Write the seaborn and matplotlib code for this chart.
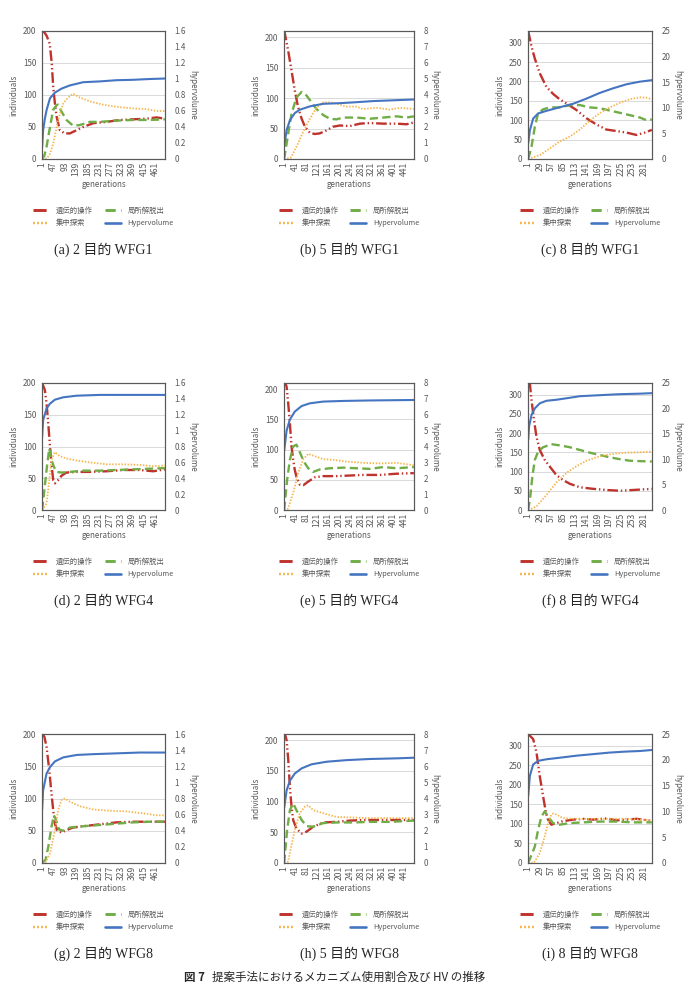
import numpy as np
import pandas as pd
import matplotlib.pyplot as plt
import seaborn as sns
from matplotlib.lines import Line2D
from matplotlib.ticker import FuncFormatter

# (generation, value) pairs
# ga = 遺伝的操作, ls = 局所解脱出, fs = 集中探索, hv = Hypervolume
a_ga = [(1,200),(10,198),(20,192),(32,180),(40,150),(46,113),(53,87),(60,66),(73,45),(93,40),(114,40),(141,45),(168,50),(209,56),(263,58),(317,61),(371,62),(425,63),(466,65),(500,63)]
a_ls = [(1,0),(10,5),(19,19),(33,50),(46,77),(60,84),(66,85),(80,74),(100,61),(127,52),(154,53),(195,58),(236,58),(304,60),(371,61),(439,61),(500,62)]
a_fs = [(1,0),(20,1),(33,8),(46,24),(66,61),(87,87),(107,96),(127,102),(154,96),(195,90),(236,86),(276,83),(317,81),(371,79),(425,78),(466,75),(500,75)]
a_hv = [(1,0.15),(5,0.36),(12,0.5),(19,0.61),(33,0.76),(53,0.83),(80,0.88),(114,0.92),(168,0.96),(236,0.97),(304,0.985),(371,0.99),(439,1.0),(500,1.006)]

b_ga = [(1,212),(16,177),(28,145),(40,112),(52,85),(65,66),(77,53),(95,43),(113,41),(131,42),(156,47),(180,53),(205,55),(241,54),(278,58),(314,59),(363,58),(412,58),(448,57),(475,60)]
b_ls = [(1,0),(16,42),(28,74),(46,101),(65,110),(83,104),(101,93),(119,82),(144,72),(168,66),(192,65),(217,68),(265,68),(314,66),(363,68),(412,70),(448,68),(475,70)]
b_fs = [(1,0),(25,2),(46,20),(71,45),(95,66),(119,84),(144,93),(168,93),(192,91),(229,86),(265,86),(290,82),(339,84),(387,81),(424,84),(475,82)]
b_hv = [(1,0.76),(10,1.8),(22,2.42),(40,2.87),(58,3.08),(95,3.29),(144,3.45),(205,3.49),(265,3.55),(326,3.62),(387,3.66),(475,3.72)]

c_ga = [(1,330),(9,290),(17,259),(29,221),(45,186),(61,168),(77,154),(94,143),(118,126),(142,105),(166,89),(190,76),(215,72),(239,68),(263,62),(283,68),(300,75)]
c_ls = [(1,0),(9,32),(17,83),(25,118),(37,128),(53,133),(77,133),(102,139),(126,139),(150,133),(174,131),(198,125),(223,119),(247,113),(271,107),(287,100),(300,102)]
c_fs = [(1,0),(29,10),(53,27),(77,45),(102,58),(126,76),(150,99),(174,118),(198,133),(223,145),(247,154),(271,159),(287,158),(300,154)]
c_hv = [(1,3.05),(5,5.6),(13,7.9),(25,8.9),(45,9.4),(77,10.1),(110,10.8),(142,11.8),(174,12.9),(206,13.8),(239,14.6),(271,15.1),(300,15.4)]

d_ga = [(1,200),(12,189),(19,168),(26,136),(33,100),(39,73),(46,47),(53,42),(66,47),(80,54),(100,59),(141,60),(195,60),(263,61),(331,63),(398,63),(453,61),(500,64)]
d_ls = [(1,0),(19,63),(30,97),(39,79),(49,68),(60,60),(80,59),(114,60),(168,62),(236,62),(304,63),(371,64),(439,65),(500,66)]
d_fs = [(1,0),(19,10),(30,47),(39,79),(53,91),(73,85),(100,81),(141,78),(195,75),(263,72),(331,72),(398,71),(453,69),(500,70)]
d_hv = [(1,0.92),(5,1.13),(19,1.28),(33,1.34),(53,1.39),(87,1.42),(141,1.44),(236,1.45),(371,1.45),(500,1.45)]

e_ga = [(1,215),(10,204),(16,176),(22,143),(28,105),(34,83),(40,66),(46,55),(58,42),(71,41),(89,47),(113,54),(144,56),(192,56),(241,57),(290,58),(351,58),(412,60),(475,61)]
e_ls = [(1,0),(12,50),(22,83),(34,105),(46,108),(58,96),(73,80),(89,69),(107,63),(131,67),(168,69),(217,70),(265,69),(314,68),(363,71),(412,69),(475,71)]
e_fs = [(1,0),(15,2),(34,28),(52,61),(71,84),(89,93),(113,89),(144,84),(180,83),(229,80),(290,78),(351,77),(412,78),(475,74)]
e_hv = [(1,3.7),(10,5.0),(22,5.7),(40,6.2),(65,6.55),(95,6.72),(144,6.83),(217,6.87),(314,6.9),(475,6.93)]

f_ga = [(1,330),(5,329),(9,286),(15,234),(21,190),(29,156),(41,130),(53,113),(69,91),(85,78),(102,68),(126,59),(158,55),(190,52),(223,50),(255,52),(287,54),(300,55)]
f_ls = [(1,0),(6,35),(11,87),(17,130),(25,152),(37,163),(57,171),(77,168),(102,163),(126,156),(150,149),(174,143),(198,137),(223,132),(247,128),(271,127),(300,126)]
f_fs = [(1,0),(21,9),(45,39),(69,71),(94,97),(118,114),(142,128),(166,137),(190,143),(215,147),(239,149),(271,150),(300,152)]
f_hv = [(1,13.8),(3,16.4),(9,18.7),(17,20.0),(29,21.0),(45,21.5),(69,21.7),(94,22.0),(126,22.4),(174,22.6),(223,22.8),(271,22.9),(300,23.0)]

g_ga = [(1,200),(10,196),(19,180),(30,144),(39,108),(46,82),(53,61),(62,51),(80,47),(100,51),(127,55),(168,57),(236,60),(304,63),(371,64),(439,64),(500,64)]
g_ls = [(1,0),(15,5),(26,25),(39,56),(49,74),(57,67),(70,52),(87,50),(114,55),(168,57),(236,59),(304,61),(371,63),(439,64),(500,64)]
g_fs = [(1,0),(15,1),(33,15),(53,51),(66,82),(80,98),(93,100),(114,95),(154,88),(209,83),(276,81),(344,80),(412,77),(466,74),(500,74)]
g_hv = [(1,0.66),(5,0.9),(19,1.11),(33,1.19),(53,1.26),(87,1.31),(141,1.34),(209,1.35),(304,1.36),(398,1.37),(500,1.37)]

h_ga = [(1,215),(10,200),(16,168),(22,124),(28,92),(34,70),(46,56),(65,48),(83,51),(107,59),(144,66),(192,67),(241,69),(290,70),(351,70),(412,70),(475,70)]
h_ls = [(1,0),(12,54),(22,86),(34,97),(46,86),(65,70),(83,60),(107,59),(144,65),(192,66),(253,66),(314,67),(387,67),(475,69)]
h_fs = [(1,0),(15,2),(40,54),(58,81),(77,92),(89,94),(107,86),(144,81),(192,75),(253,74),(314,73),(387,73),(475,73)]
h_hv = [(1,3.4),(10,4.5),(22,5.1),(40,5.55),(65,5.87),(101,6.12),(156,6.28),(229,6.38),(314,6.45),(412,6.49),(475,6.53)]

i_ga = [(1,330),(13,317),(21,283),(29,222),(37,171),(44,128),(49,111),(57,98),(69,102),(85,107),(110,111),(134,113),(158,111),(190,114),(215,109),(239,111),(263,113),(300,108)]
i_ls = [(1,0),(17,42),(25,85),(33,119),(41,132),(49,119),(61,102),(77,98),(102,102),(134,104),(174,106),(215,106),(255,104),(300,104)]
i_fs = [(1,0),(15,1),(29,25),(41,68),(49,102),(57,124),(62,127),(69,124),(85,115),(110,113),(142,113),(174,113),(206,113),(239,113),(271,111),(300,109)]
i_hv = [(1,13.0),(5,16.9),(13,19.1),(25,19.8),(45,20.1),(77,20.4),(118,20.8),(158,21.1),(198,21.4),(239,21.6),(271,21.7),(300,21.9)]

captions = ["(a) 2 目的 WFG1", "(b) 5 目的 WFG1", "(c) 8 目的 WFG1",
            "(d) 2 目的 WFG4", "(e) 5 目的 WFG4", "(f) 8 目的 WFG4",
            "(g) 2 目的 WFG8", "(h) 5 目的 WFG8", "(i) 8 目的 WFG8"]
series_names = ["遺伝的操作", "局所解脱出", "集中探索", "Hypervolume"]

# per objective count: generations, left ylim, left ticks, right ylim, right ticks, x tick step
obj_cfg = {
    2: dict(n=500, ylim=200, yticks=np.arange(0, 201, 50), hvlim=1.6, hvticks=np.arange(0, 1.61, 0.2), step=46),
    5: dict(n=475, ylim=210, yticks=np.arange(0, 201, 50), hvlim=8, hvticks=np.arange(0, 9, 1), step=40),
    8: dict(n=300, ylim=330, yticks=np.arange(0, 301, 50), hvlim=25, hvticks=np.arange(0, 26, 5), step=28),
}

panel_data = [(a_ga, a_ls, a_fs, a_hv), (b_ga, b_ls, b_fs, b_hv), (c_ga, c_ls, c_fs, c_hv),
              (d_ga, d_ls, d_fs, d_hv), (e_ga, e_ls, e_fs, e_hv), (f_ga, f_ls, f_fs, f_hv),
              (g_ga, g_ls, g_fs, g_hv), (h_ga, h_ls, h_fs, h_hv), (i_ga, i_ls, i_fs, i_hv)]
panel_obj = [2, 5, 8] * 3

sns.set_style("white")
plt.rcParams['font.family'] = ['Noto Sans CJK JP', 'DejaVu Sans']

colors = ["#C0322C", "#70AD47", "#F6B44A", "#4575C1"]
styles = [(0, (4.5, 1.2, 0.6, 1.2, 0.6, 1.2)), (0, (3.5, 1.8)), (0, (0.8, 0.9)), "-"]
widths = [1.7, 1.7, 1.3, 1.5]
GRAY = "#595959"

W, H = 688, 985
fig = plt.figure(figsize=(W / 100, H / 100), dpi=100)

col_left = [42, 284, 528]
col_w = [123, 130, 124]
row_top = [31, 383, 734]
row_h = [128, 127, 129]

for k, (data, obj) in enumerate(zip(panel_data, panel_obj)):
    r, c = divmod(k, 3)
    cfg = obj_cfg[obj]
    x0, w, y0, h = col_left[c], col_w[c], row_top[r], row_h[r]
    ax = fig.add_axes([x0 / W, 1 - (y0 + h) / H, w / W, h / H])
    ax2 = ax.twinx()

    for j in range(3):
        df = pd.DataFrame(data[j], columns=["generation", "value"])
        sns.lineplot(data=df, x="generation", y="value", ax=ax, color=colors[j],
                     lw=widths[j], linestyle=styles[j], estimator=None)
    df = pd.DataFrame(data[3], columns=["generation", "value"])
    sns.lineplot(data=df, x="generation", y="value", ax=ax2, color=colors[3],
                 lw=widths[3], linestyle=styles[3], estimator=None)

    ax.set_xlim(0.5, cfg["n"] + 0.5)
    ax.set_ylim(0, cfg["ylim"])
    ax.set_yticks(cfg["yticks"])
    ax2.set_ylim(0, cfg["hvlim"])
    ax2.set_yticks(cfg["hvticks"])
    ax2.yaxis.set_major_formatter(FuncFormatter(lambda v, p: f"{v:g}"))
    ax.set_xticks(np.arange(1, cfg["n"], cfg["step"]))
    ax.grid(axis="y", color="#D9D9D9", lw=0.7)
    ax.set_axisbelow(True)

    ax.tick_params(axis="x", labelrotation=90, length=0, pad=2, labelsize=6.2, labelcolor=GRAY)
    ax.tick_params(axis="y", length=0, pad=4, labelsize=5.8, labelcolor=GRAY)
    ax2.tick_params(axis="y", length=0, pad=7, labelsize=5.8, labelcolor=GRAY)
    ax.set_xlabel("generations", fontsize=5.8, color=GRAY, labelpad=3)
    ax.set_ylabel("individuals", fontsize=5.8, color=GRAY, labelpad=3)
    ax2.set_ylabel("hypervolume", fontsize=5.8, color=GRAY, rotation=270, labelpad=8)
    for a in (ax, ax2):
        for s in a.spines.values():
            s.set_color(GRAY)
            s.set_linewidth(0.8)

    handles = [Line2D([], [], color=colors[j], lw=widths[j] + 0.4, linestyle=styles[j]) for j in (0, 2, 1, 3)]
    labels = [series_names[j] for j in (0, 2, 1, 3)]
    leg = ax.legend(handles, labels, ncol=2, loc="upper center",
                    bbox_to_anchor=((x0 + w / 2) / W, 1 - (y0 + h + 41) / H),
                    bbox_transform=fig.transFigure, frameon=False, fontsize=5.3,
                    handlelength=2.2, handletextpad=0.9, columnspacing=1.6, labelspacing=0.65)
    for t in leg.get_texts():
        t.set_color(GRAY)

    fig.text((x0 + w / 2) / W, 1 - (y0 + h + 91) / H, captions[k],
             family=["Liberation Serif", "Noto Sans CJK JP"], fontsize=10, ha="center", va="center")

fig.text(205 / W, 1 - 977 / H, "図 7", fontsize=8.3, fontweight="bold", ha="right", va="center")
fig.text(212 / W, 1 - 977 / H, "提案手法におけるメカニズム使用割合及び HV の推移",
         fontsize=8.3, ha="left", va="center")

fig.savefig("out.png", dpi=100)
